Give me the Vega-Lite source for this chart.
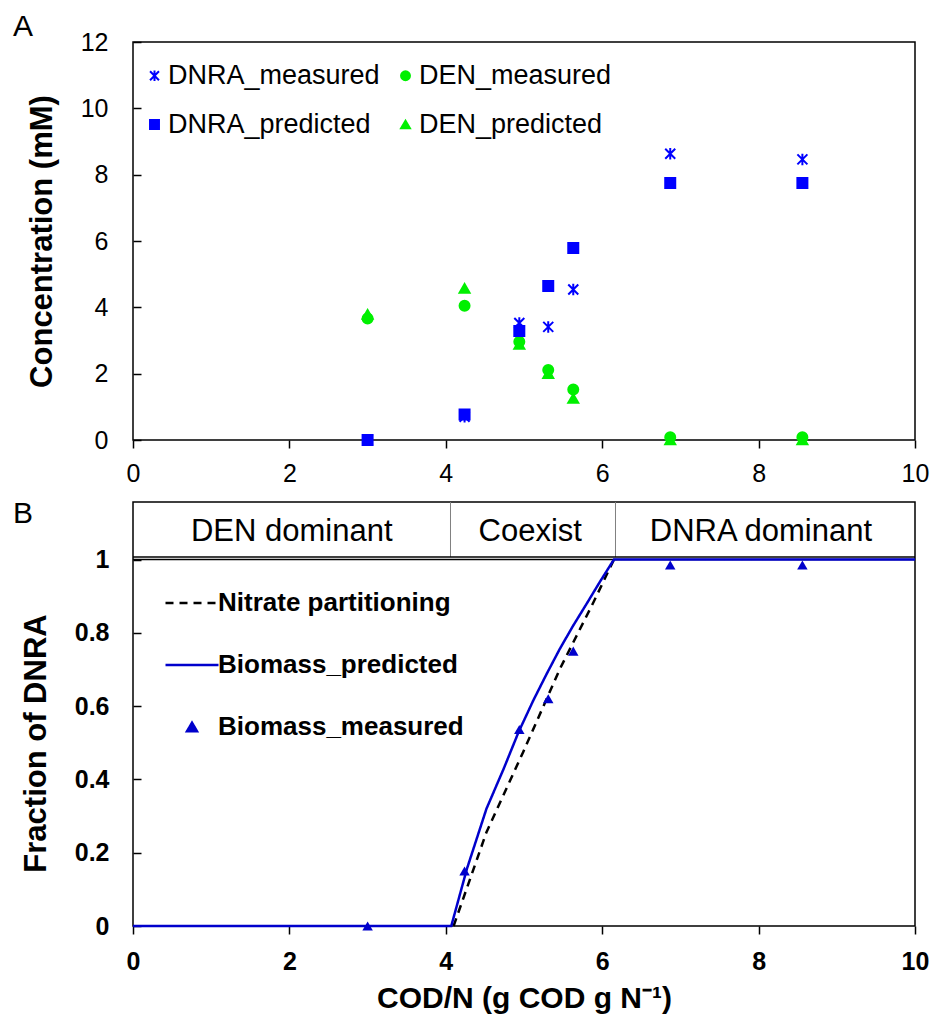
{
  "$schema": "https://vega.github.io/schema/vega-lite/v6.json",
  "padding": {"left": 12, "top": 11, "right": 12, "bottom": 5},
  "autosize": {"type": "pad"},
  "bounds": "flush",
  "spacing": 62,
  "resolve": {
    "scale": {"fill": "independent", "stroke": "independent", "shape": "independent", "strokeDash": "independent"},
    "legend": {"fill": "independent", "stroke": "independent", "shape": "independent", "strokeDash": "independent"}
  },
  "config": {
    "font": "Liberation Sans",
    "view": {"stroke": "black", "strokeWidth": 1.5},
    "axis": {"grid": false, "domain": false, "tickColor": "black", "tickWidth": 1.5, "labelColor": "black", "titleColor": "black", "labelFlush": false, "labelOverlap": false, "labelBound": false},
    "legend": {"labelLimit": 0},
    "title": {"fontSize": 30, "fontWeight": "normal", "anchor": "start", "frame": "group", "color": "black"}
  },
  "vconcat": [
    {
      "width": 782,
      "height": 398,
      "title": {"text": "A", "dx": -120, "offset": 0, "dy": 12},
      "data": {"values": [
        {"series": "DNRA_measured", "x": 3.0, "y": 0.0},
        {"series": "DNRA_measured", "x": 4.24, "y": 0.70},
        {"series": "DNRA_measured", "x": 4.94, "y": 3.53},
        {"series": "DNRA_measured", "x": 5.31, "y": 3.41},
        {"series": "DNRA_measured", "x": 5.63, "y": 4.54},
        {"series": "DNRA_measured", "x": 6.87, "y": 8.63},
        {"series": "DNRA_measured", "x": 8.56, "y": 8.46},
        {"series": "DEN_predicted", "x": 3.0, "y": 3.79},
        {"series": "DEN_predicted", "x": 4.24, "y": 4.57},
        {"series": "DEN_predicted", "x": 4.94, "y": 2.88},
        {"series": "DEN_predicted", "x": 5.31, "y": 2.0},
        {"series": "DEN_predicted", "x": 5.63, "y": 1.25},
        {"series": "DEN_predicted", "x": 6.87, "y": 0.0},
        {"series": "DEN_predicted", "x": 8.56, "y": 0.0},
        {"series": "DEN_measured", "x": 3.0, "y": 3.66},
        {"series": "DEN_measured", "x": 4.24, "y": 4.05},
        {"series": "DEN_measured", "x": 4.94, "y": 2.96},
        {"series": "DEN_measured", "x": 5.31, "y": 2.11},
        {"series": "DEN_measured", "x": 5.63, "y": 1.52},
        {"series": "DEN_measured", "x": 6.87, "y": 0.08},
        {"series": "DEN_measured", "x": 8.56, "y": 0.08},
        {"series": "DNRA_predicted", "x": 3.0, "y": 0.0},
        {"series": "DNRA_predicted", "x": 4.24, "y": 0.77},
        {"series": "DNRA_predicted", "x": 4.94, "y": 3.29},
        {"series": "DNRA_predicted", "x": 5.31, "y": 4.64},
        {"series": "DNRA_predicted", "x": 5.63, "y": 5.79},
        {"series": "DNRA_predicted", "x": 6.87, "y": 7.75},
        {"series": "DNRA_predicted", "x": 8.56, "y": 7.75}
      ]},
      "mark": {"type": "point", "filled": true, "opacity": 1, "strokeWidth": 2, "size": 100},
      "encoding": {
        "x": {"field": "x", "type": "quantitative", "scale": {"domain": [0, 10], "nice": false},
              "axis": {"values": [0, 2, 4, 6, 8, 10], "title": null, "labelFontSize": 25, "tickSize": 8, "labelPadding": 13}},
        "y": {"field": "y", "type": "quantitative", "scale": {"domain": [0, 12], "nice": false},
              "axis": {"values": [0, 2, 4, 6, 8, 10, 12], "title": "Concentration (mM)", "titleFontSize": 31, "titleFontWeight": "bold", "labelFontSize": 25, "tickSize": -8, "labelPadding": 33, "titlePadding": 22}},
        "fill": {"field": "series", "type": "nominal",
                 "scale": {"domain": ["DNRA_measured", "DNRA_predicted", "DEN_measured", "DEN_predicted"], "range": ["#0000ff", "#0000ff", "#00f000", "#00f000"]},
                 "legend": {"title": null, "orient": "none", "legendX": 8, "legendY": 20, "columns": 2, "labelFontSize": 27, "labelFontWeight": "normal", "labelColor": "black", "symbolSize": 80, "symbolStrokeWidth": 2, "rowPadding": 21, "columnPadding": 12, "labelOffset": 0, "padding": 0}},
        "stroke": {"field": "series", "type": "nominal",
                 "scale": {"domain": ["DNRA_measured", "DNRA_predicted", "DEN_measured", "DEN_predicted"], "range": ["#0000ff", "#0000ff", "#00f000", "#00f000"]},
                 "legend": {"title": null, "orient": "none", "legendX": 8, "legendY": 20, "columns": 2, "labelFontSize": 27, "labelFontWeight": "normal", "labelColor": "black", "symbolSize": 80, "symbolStrokeWidth": 2, "rowPadding": 21, "columnPadding": 12, "labelOffset": 0, "padding": 0}},
        "shape": {"field": "series", "type": "nominal",
                 "scale": {"domain": ["DNRA_measured", "DNRA_predicted", "DEN_measured", "DEN_predicted"], "range": ["M-1,-1L1,1M-1,1L1,-1M0,-1.15L0,1.15", "square", "circle", "triangle-up"]},
                 "legend": {"title": null, "orient": "none", "legendX": 8, "legendY": 20, "columns": 2, "labelFontSize": 27, "labelFontWeight": "normal", "labelColor": "black", "symbolSize": 80, "symbolStrokeWidth": 2, "rowPadding": 21, "columnPadding": 12, "labelOffset": 0, "padding": 0}}
      }
    },
    {
      "width": 782,
      "height": 424,
      "title": {"text": "B", "dx": -120, "offset": 0, "dy": 27},
      "encoding": {
        "x": {"field": "x", "type": "quantitative", "scale": {"domain": [0, 10], "nice": false},
              "axis": {"values": [0, 2, 4, 6, 8, 10], "title": "COD/N (g COD g N⁻¹)", "titleFontSize": 30, "titleFontWeight": "bold", "labelFontSize": 25, "labelFontWeight": "bold", "tickSize": 8, "labelPadding": 15, "titlePadding": 9}},
        "y": {"field": "y", "type": "quantitative", "scale": {"domain": [0, 1.157], "nice": false},
              "axis": {"values": [0, 0.2, 0.4, 0.6, 0.8, 1], "format": "~g", "title": "Fraction of DNRA", "titleFontSize": 31, "titleFontWeight": "bold", "labelFontSize": 25, "labelFontWeight": "bold", "tickSize": -8, "labelPadding": 32, "titlePadding": 22, "titleY": 241}}
      },
      "layer": [
        {
          "data": {"values": [
            {"x": 4.06, "y": 1.0068, "y2": 1.157},
            {"x": 6.17, "y": 1.0068, "y2": 1.157}
          ]},
          "mark": {"type": "rule", "color": "#808080", "strokeWidth": 1},
          "encoding": {"y2": {"field": "y2"}}
        },
        {
          "data": {"values": [
            {"y": 1.0068},
            {"y": 1.0}
          ]},
          "mark": {"type": "rule", "color": "black", "strokeWidth": 1.5},
          "encoding": {"x": {"value": 0}, "x2": {"value": 782}}
        },
        {
          "data": {"values": [
            {"label": "DEN dominant", "x": 2.03, "y": 1.082},
            {"label": "Coexist", "x": 5.08, "y": 1.082},
            {"label": "DNRA dominant", "x": 8.03, "y": 1.082}
          ]},
          "mark": {"type": "text", "fontSize": 31, "color": "black", "baseline": "middle", "align": "center", "dy": 3},
          "encoding": {"text": {"field": "label"}}
        },
        {
          "data": {"values": [
            {"series": "Nitrate partitioning", "x": 4.10, "y": 0.0},
            {"series": "Nitrate partitioning", "x": 4.52, "y": 0.256},
            {"series": "Nitrate partitioning", "x": 4.99, "y": 0.475},
            {"series": "Nitrate partitioning", "x": 5.46, "y": 0.702},
            {"series": "Nitrate partitioning", "x": 5.89, "y": 0.884},
            {"series": "Nitrate partitioning", "x": 6.15, "y": 1.0}
          ]},
          "mark": {"type": "line", "strokeWidth": 2.5},
          "encoding": {
            "stroke": {"field": "series", "type": "nominal",
              "scale": {"domain": ["Nitrate partitioning", "Biomass_predicted", "Biomass_measured"], "range": ["black", "#0000cc", "#0000cc"]},
              "legend": {"title": null, "orient": "none", "legendX": 46, "legendY": 88, "labelFontSize": 26, "labelFontWeight": "bold", "labelColor": "black", "rowPadding": 36, "labelOffset": 13, "symbolStrokeWidth": 2.5, "symbolSize": 100, "padding": 0}},
            "strokeDash": {"field": "series", "type": "nominal",
              "scale": {"domain": ["Nitrate partitioning", "Biomass_predicted", "Biomass_measured"], "range": [[8, 6], [1, 0], [1, 0]]},
              "legend": {"title": null, "orient": "none", "legendX": 46, "legendY": 88, "labelFontSize": 26, "labelFontWeight": "bold", "labelColor": "black", "rowPadding": 36, "labelOffset": 13, "symbolStrokeWidth": 2.5, "symbolSize": 100, "padding": 0}}
          }
        },
        {
          "data": {"values": [
            {"series": "Biomass_predicted", "x": 0.0, "y": 0.0},
            {"series": "Biomass_predicted", "x": 4.07, "y": 0.0},
            {"series": "Biomass_predicted", "x": 4.27, "y": 0.156},
            {"series": "Biomass_predicted", "x": 4.52, "y": 0.32},
            {"series": "Biomass_predicted", "x": 4.74, "y": 0.429},
            {"series": "Biomass_predicted", "x": 4.93, "y": 0.529},
            {"series": "Biomass_predicted", "x": 5.12, "y": 0.616},
            {"series": "Biomass_predicted", "x": 5.29, "y": 0.688},
            {"series": "Biomass_predicted", "x": 5.46, "y": 0.757},
            {"series": "Biomass_predicted", "x": 5.63, "y": 0.82},
            {"series": "Biomass_predicted", "x": 5.80, "y": 0.879},
            {"series": "Biomass_predicted", "x": 5.97, "y": 0.939},
            {"series": "Biomass_predicted", "x": 6.15, "y": 1.0},
            {"series": "Biomass_predicted", "x": 10.0, "y": 1.0}
          ]},
          "mark": {"type": "line", "strokeWidth": 2.5},
          "encoding": {
            "stroke": {"field": "series", "type": "nominal"},
            "strokeDash": {"field": "series", "type": "nominal"}
          }
        },
        {
          "data": {"values": [
            {"series": "Biomass_measured", "x": 3.0, "y": 0.0},
            {"series": "Biomass_measured", "x": 4.24, "y": 0.15},
            {"series": "Biomass_measured", "x": 4.94, "y": 0.536},
            {"series": "Biomass_measured", "x": 5.31, "y": 0.62},
            {"series": "Biomass_measured", "x": 5.63, "y": 0.75},
            {"series": "Biomass_measured", "x": 6.87, "y": 0.985},
            {"series": "Biomass_measured", "x": 8.56, "y": 0.985}
          ]},
          "mark": {"type": "point", "filled": true, "opacity": 1, "size": 110, "strokeWidth": 0},
          "encoding": {
            "fill": {"field": "series", "type": "nominal",
              "scale": {"domain": ["Nitrate partitioning", "Biomass_predicted", "Biomass_measured"], "range": ["black", "#0000cc", "#0000cc"]},
              "legend": {"title": null, "orient": "none", "legendX": 46, "legendY": 88, "labelFontSize": 26, "labelFontWeight": "bold", "labelColor": "black", "rowPadding": 36, "labelOffset": 13, "symbolStrokeWidth": 2.5, "symbolSize": 100, "padding": 0}},
            "shape": {"field": "series", "type": "nominal",
              "scale": {"domain": ["Nitrate partitioning", "Biomass_predicted", "Biomass_measured"], "range": ["M-5.3,0L5.3,0", "M-5.3,0L5.3,0", "triangle-up"]},
              "legend": {"title": null, "orient": "none", "legendX": 46, "legendY": 88, "labelFontSize": 26, "labelFontWeight": "bold", "labelColor": "black", "rowPadding": 36, "labelOffset": 13, "symbolStrokeWidth": 2.5, "symbolSize": 100, "padding": 0}}
          }
        }
      ]
    }
  ]
}
